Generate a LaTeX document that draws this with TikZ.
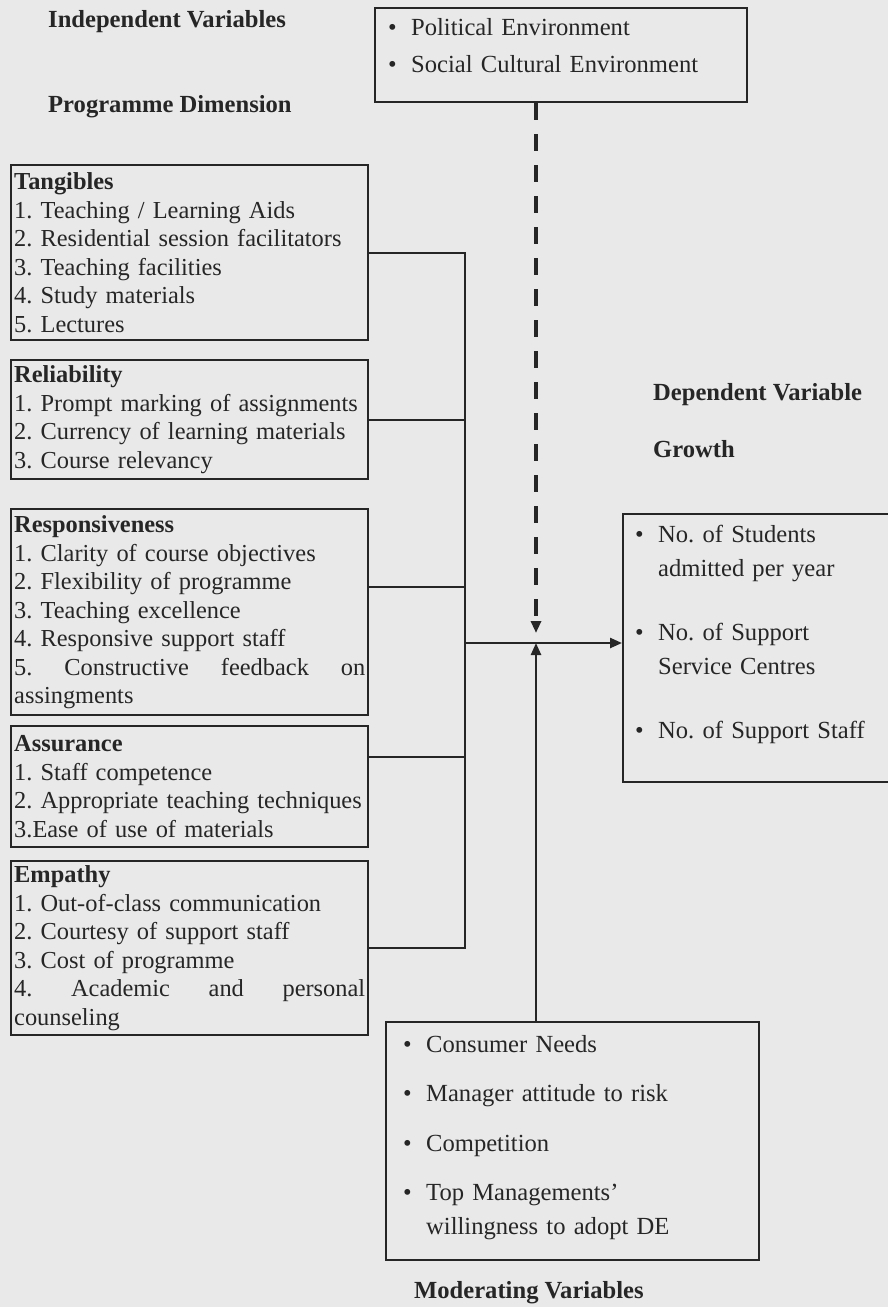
\documentclass[tikz,border=0pt]{standalone}
\usepackage{fontspec}
\setmainfont{Liberation Serif}
\usetikzlibrary{arrows.meta}
\definecolor{scan}{HTML}{E9E9E9}
\definecolor{ink}{HTML}{262626}
\newcommand{\blt}{\makebox[11.5pt][l]{\textbullet}}
\newcommand{\bind}{\hspace*{11.5pt}}
\frenchspacing
\begin{document}
\begin{tikzpicture}[x=0.5pt,y=-0.5pt,color=ink,line width=1.2pt,
	font=\fontsize{12.2}{14.25}\selectfont,
	dimbox/.style={draw,anchor=north west,text width=175.5pt,align=left,inner xsep=1.5pt,inner ysep=1pt},
	bulletbox/.style={draw,anchor=north west,align=left,inner ysep=0pt},
	vartitle/.style={anchor=base west,inner sep=0pt,font=\fontsize{12.3}{14.25}\selectfont\bfseries},
	arr/.style={-{Triangle[length=6pt,width=5pt]}}]
	\fill [scan] (0,0) rectangle (888,1307);
	\useasboundingbox (0,0) rectangle (888,1307);
	\clip (0,0) rectangle (888,1307);
	\node [vartitle] (indep) at (47,27) {Independent Variables};
	\node [vartitle] (progdim) at (47,112) {Programme Dimension};
	\node [vartitle] (depvar) at (652,400) {Dependent Variable};
	\node [vartitle] (growth) at (652,457) {Growth};
	\node [vartitle] (modvar) at (413,1298) {Moderating Variables};
	\node [bulletbox,text width=173pt,inner xsep=6.5pt,font=\fontsize{12.3}{18.5}\selectfont] (env) at (374,7)
		{\rule{0pt}{13.5pt}\blt Political Environment\\ \blt Social Cultural Environment\rule[-15pt]{0pt}{0pt}};
	\node [dimbox,minimum height=87.5pt] (tang) at (10,164) {\textbf{Tangibles}\\ 1. Teaching / Learning Aids\\ 2. Residential session facilitators\\ 3. Teaching facilities\\ 4. Study materials\\ 5. Lectures};
	\node [dimbox,minimum height=59.5pt] (rel) at (10,359) {\textbf{Reliability}\\ 1. Prompt marking of assignments\\ 2. Currency of learning materials\\ 3. Course relevancy};
	\node [dimbox,minimum height=103pt] (resp) at (10,508) {\textbf{Responsiveness}\\ 1. Clarity of course objectives\\ 2. Flexibility of programme\\ 3. Teaching excellence\\ 4. Responsive support staff\\ \makebox[\hsize][s]{5.\hfill Constructive\hfill feedback\hfill on}\\ assingments};
	\node [dimbox,minimum height=60.5pt] (assu) at (10,725) {\textbf{Assurance}\\ 1. Staff competence\\ 2. Appropriate teaching techniques\\ 3.Ease of use of materials};
	\node [dimbox,minimum height=87pt] (emp) at (10,860) {\textbf{Empathy}\\ 1. Out-of-class communication\\ 2. Courtesy of support staff\\ 3. Cost of programme\\ \makebox[\hsize][s]{4.\hfill Academic\hfill and\hfill personal}\\ counseling};
	\node [bulletbox,text width=128pt,inner xsep=6pt,font=\fontsize{12.3}{17}\selectfont] (dep) at (622,513)
		{\rule{0pt}{14pt}\blt No. of Students\\ \bind admitted per year\\[15pt] \blt No. of Support\\ \bind Service Centres\\[15pt] \blt No. of Support Staff\rule[-22pt]{0pt}{0pt}};
	\node [bulletbox,text width=169.5pt,inner xsep=8.5pt,font=\fontsize{12.3}{17}\selectfont] (mod) at (385,1021)
		{\rule{0pt}{15pt}\blt Consumer Needs\\[7.75pt] \blt Manager attitude to risk\\[7.75pt] \blt Competition\\[7.75pt] \blt Top Managements'\\ \bind willingness to adopt DE\rule[-12.5pt]{0pt}{0pt}};
	\coordinate (bus) at (465,643);
	\coordinate (mid) at (536,643);
	\draw (tang.east) -| (bus |- emp.east) -- (emp.east);
	\draw (rel.east) -- (rel.east -| bus);
	\draw (resp.east |- 0,587) -- (bus |- 0,587);
	\draw (assu.east |- 0,757) -- (bus |- 0,757);
	\draw [arr] (bus) -- (dep.west |- bus);
	\draw [arr,line width=1.6pt,dash pattern=on 8.5pt off 7pt] (env.south -| mid) -- (mid |- 0,633);
	\draw [arr] (mod.north -| mid) -- (mid);
\end{tikzpicture}
\end{document}
